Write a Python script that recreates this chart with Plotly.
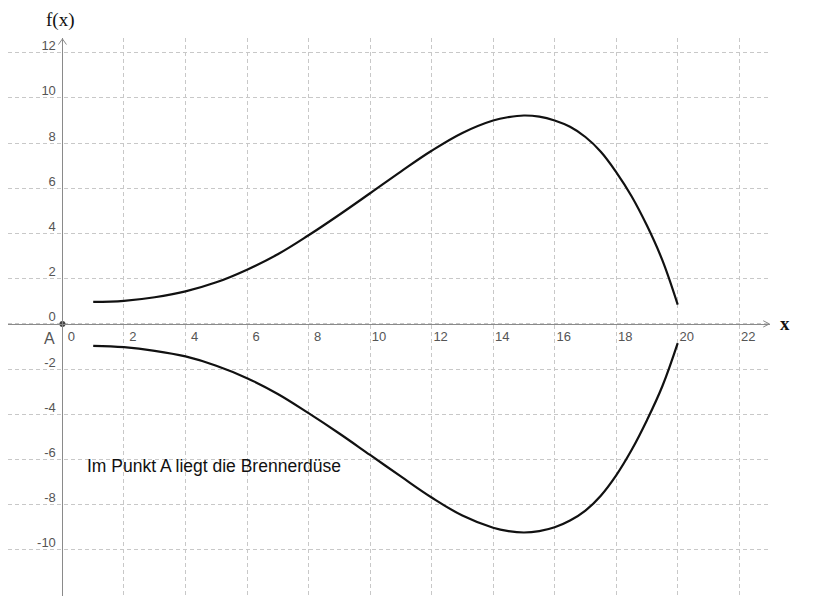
import plotly.graph_objects as go

# ---- data ----
x_upper = [1, 2, 3, 4, 5, 6, 7, 8, 9, 10, 11, 12, 13, 14, 14.5, 15, 15.5, 16, 16.5, 17, 17.5, 18, 18.5, 19, 19.5, 20]
y_upper = [0.97, 1.02, 1.18, 1.44, 1.84, 2.40, 3.08, 3.92, 4.83, 5.78, 6.74, 7.66, 8.45, 9.00, 9.15, 9.22, 9.17, 9.00, 8.72, 8.27, 7.62, 6.72, 5.65, 4.35, 2.82, 0.85]

x_lower = [1, 2, 3, 4, 5, 6, 7, 8, 9, 10, 11, 12, 13, 14, 14.5, 15, 15.5, 16, 16.5, 17, 17.5, 18, 18.5, 19, 19.5, 20]
y_lower = [-0.97, -1.03, -1.19, -1.44, -1.85, -2.40, -3.10, -3.95, -4.85, -5.80, -6.75, -7.68, -8.48, -9.02, -9.17, -9.23, -9.17, -9.00, -8.70, -8.26, -7.60, -6.70, -5.58, -4.26, -2.76, -0.85]

point_A = {"name": "A", "x": 0, "y": 0}

x_tick_vals = [-2, 0, 2, 4, 6, 8, 10, 12, 14, 16, 18, 20, 22]
x_tick_text = ["", "0", "2", "4", "6", "8", "10", "12", "14", "16", "18", "20", "22"]
y_tick_vals = [-12, -10, -8, -6, -4, -2, 0, 2, 4, 6, 8, 10, 12]
y_tick_text = ["", "-10", "-8", "-6", "-4", "-2", "0", "2", "4", "6", "8", "10", "12"]

note_text = "Im Punkt A liegt die Brennerdüse"

# the page has an 8px body margin, so the figure is sized to fit inside it
FIG_W, FIG_H = 831, 588
M_L, M_R, M_T, M_B = 0, 69, 30, 0
PLOT_W = FIG_W - M_L - M_R
PLOT_H = FIG_H - M_T - M_B

X_RANGE = [-1.77, 23.0]
Y_RANGE = [-12.04, 12.65]

GRID = "#c8c8c8"
AXIS = "#8a8a8a"
TICKFONT = dict(family="Liberation Sans, Arial, sans-serif", size=13, color="#555555")

fig = go.Figure()
fig.add_trace(go.Scatter(x=x_upper, y=y_upper, mode="lines",
                         line=dict(color="#111111", width=2.2, shape="spline", smoothing=1.1),
                         hoverinfo="skip", showlegend=False))
fig.add_trace(go.Scatter(x=x_lower, y=y_lower, mode="lines",
                         line=dict(color="#111111", width=2.2, shape="spline", smoothing=1.1),
                         hoverinfo="skip", showlegend=False))
fig.add_trace(go.Scatter(x=[point_A["x"]], y=[point_A["y"]], mode="markers",
                         marker=dict(color="#444444", size=6),
                         hoverinfo="skip", showlegend=False))

ypos_x_axis = (0 - Y_RANGE[0]) / (Y_RANGE[1] - Y_RANGE[0])
xpos_y_axis = (0 - X_RANGE[0]) / (X_RANGE[1] - X_RANGE[0])

fig.update_layout(
    width=FIG_W, height=FIG_H,
    margin=dict(l=M_L, r=M_R, t=M_T, b=M_B, autoexpand=False),
    paper_bgcolor="white", plot_bgcolor="white",
    xaxis=dict(range=X_RANGE, anchor="free", position=ypos_x_axis, automargin=False,
               tickmode="array", tickvals=x_tick_vals, ticktext=x_tick_text,
               showgrid=True, gridcolor=GRID, griddash="4px,3px", gridwidth=1,
               zeroline=False, showline=True, linecolor=AXIS, linewidth=1,
               ticks="", tickfont=TICKFONT, ticklabelshift=9, ticklabelstandoff=1),
    yaxis=dict(range=Y_RANGE, anchor="free", position=xpos_y_axis, automargin=False,
               tickmode="array", tickvals=y_tick_vals, ticktext=y_tick_text,
               showgrid=True, gridcolor=GRID, griddash="4px,3px", gridwidth=1,
               zeroline=False, showline=True, linecolor=AXIS, linewidth=1,
               ticks="", tickfont=TICKFONT, ticklabelshift=-7, ticklabelstandoff=4),
    annotations=[
        dict(text="f(x)", xref="paper", yref="paper", x=51.5 / PLOT_W, y=(PLOT_H + 18) / PLOT_H,
             showarrow=False, xanchor="center", yanchor="middle",
             font=dict(family="Liberation Serif, Times New Roman, serif", size=19, color="#111111")),
        dict(text="<b>x</b>", xref="paper", yref="y", x=777 / PLOT_W, y=0,
             showarrow=False, xanchor="center", yanchor="middle",
             font=dict(family="Liberation Serif, Times New Roman, serif", size=19, color="#111111")),
        dict(text=point_A["name"], xref="x", yref="y", x=-0.41, y=-0.66,
             showarrow=False, xanchor="center", yanchor="middle",
             font=dict(family="Liberation Sans, Arial, sans-serif", size=16, color="#555555")),
        dict(text=note_text, xref="x", yref="y", x=0.74, y=-6.3,
             showarrow=False, xanchor="left", yanchor="middle",
             font=dict(family="Liberation Sans, Arial, sans-serif", size=17.5, color="#111111")),
    ],
    shapes=[
        dict(type="path", xref="x", yref="y",
             path="M 22.78,0.14 L 22.98,0 L 22.78,-0.14",
             line=dict(color=AXIS, width=1)),
        dict(type="path", xref="x", yref="y",
             path="M -0.13,12.36 L 0,12.61 L 0.13,12.36",
             line=dict(color=AXIS, width=1)),
    ],
)

fig.write_html("out.html")
